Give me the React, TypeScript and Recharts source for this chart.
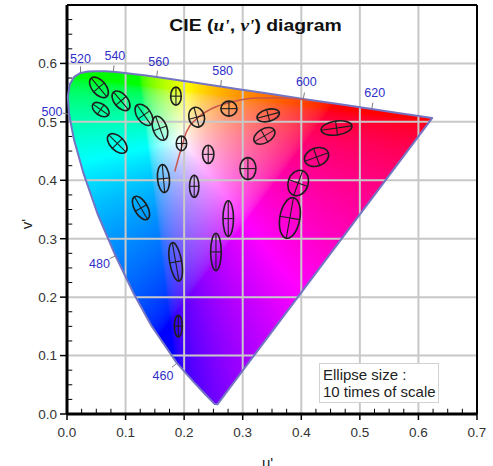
import { useMemo } from 'react'
import { ScatterChart, Scatter, XAxis, YAxis, CartesianGrid, ReferenceLine } from 'recharts'

const W = 493
const H = 466
const MARGIN = { top: 5, right: 16, left: 27, bottom: 0 }
const Y_AXIS_W = 40
const X_AXIS_H = 52
const SPAN = 0.7
// pixels per unit of u' (and v'), used to size the ellipses
const PX_PER_UNIT = (W - MARGIN.left - MARGIN.right - Y_AXIS_W) / SPAN

const FONT = '"Liberation Sans", Arial, sans-serif'
const SERIF = '"Liberation Serif", "Times New Roman", serif'

const X_TICKS = [0, 0.1, 0.2, 0.3, 0.4, 0.5, 0.6, 0.7]
const Y_TICKS = [0, 0.1, 0.2, 0.3, 0.4, 0.5, 0.6]
const MINOR_TICKS = [
  0.025, 0.05, 0.075, 0.125, 0.15, 0.175, 0.225, 0.25, 0.275, 0.325, 0.35,
  0.375, 0.425, 0.45, 0.475, 0.525, 0.55, 0.575, 0.625, 0.65, 0.675,
]
const GRID_STEPS = [0.1, 0.2, 0.3, 0.4, 0.5, 0.6]

// spectral locus, 380 -> 700 nm
const LOCUS_WL = [
  380, 420, 440, 450, 460, 470, 475, 480, 485, 490, 495, 500, 505, 510, 515, 520,
  525, 530, 535, 540, 545, 550, 555, 560, 565, 570, 575, 580, 585, 590, 595, 600,
  610, 620, 630, 640, 650, 680, 700,
]
const LOCUS_U = [
  0.2568, 0.2522, 0.2347, 0.2161, 0.1877, 0.1441, 0.1147, 0.0828, 0.0521, 0.0282,
  0.0119, 0.0035, 0.0014, 0.0046, 0.0123, 0.0231, 0.036, 0.0501, 0.0643, 0.0792,
  0.0953, 0.1127, 0.1319, 0.1531, 0.1766, 0.2026, 0.2312, 0.2623, 0.296, 0.3315,
  0.3681, 0.4035, 0.4692, 0.5203, 0.5565, 0.583, 0.6005, 0.6199, 0.6234,
]
const LOCUS_V = [
  0.0166, 0.0169, 0.035, 0.0549, 0.0871, 0.151, 0.2044, 0.2708, 0.3427, 0.4117,
  0.4698, 0.5131, 0.5432, 0.5638, 0.577, 0.5837, 0.5861, 0.5868, 0.5865, 0.5856,
  0.5841, 0.5821, 0.5796, 0.5766, 0.5732, 0.5694, 0.5651, 0.5604, 0.5554, 0.5501,
  0.5446, 0.5393, 0.5296, 0.5219, 0.5165, 0.5125, 0.5099, 0.507, 0.5065,
]

const WL_LABELS = [460, 480, 500, 520, 540, 560, 580, 600, 620]
// label placement relative to its locus point, px
const LABEL_OFFSET: Record<number, [number, number]> = {
  460: [-14, 12],
  480: [-16, 8],
  500: [-17, -3],
  520: [0, -14],
  540: [1.5, -16],
  560: [2, -16],
  580: [2, -16.5],
  600: [3, -17],
  620: [3, -17],
}

// Planckian locus
const PLANCK_U = [0.184, 0.194, 0.204, 0.221, 0.244, 0.27, 0.298, 0.329, 0.369, 0.41]
const PLANCK_V = [0.415, 0.451, 0.483, 0.505, 0.521, 0.531, 0.538, 0.541, 0.541, 0.537]

// MacAdam ellipses (10x): centre, semi-axes, major-axis angle (deg)
const ELL_U = [
  0.0546, 0.0575, 0.0922, 0.0858, 0.1314, 0.1587, 0.186, 0.2213, 0.1954, 0.2765,
  0.2411, 0.1647, 0.2172, 0.1263, 0.3089, 0.3435, 0.337, 0.4602, 0.4261, 0.3947,
  0.3805, 0.2753, 0.2543, 0.1855, 0.19,
]
const ELL_V = [
  0.559, 0.521, 0.536, 0.463, 0.512, 0.489, 0.544, 0.508, 0.463, 0.5226, 0.4444,
  0.4029, 0.3897, 0.3526, 0.42, 0.5111, 0.476, 0.4894, 0.4398, 0.3954, 0.3356,
  0.3345, 0.2774, 0.2603, 0.1504,
]
const ELL_A = [
  0.0205, 0.0162, 0.0196, 0.0205, 0.0205, 0.0213, 0.0154, 0.0171, 0.0125, 0.0137,
  0.0154, 0.0239, 0.0188, 0.0222, 0.0188, 0.0196, 0.0196, 0.0265, 0.0213, 0.0222,
  0.035, 0.0304, 0.0319, 0.0333, 0.0184,
]
const ELL_B = [
  0.0119, 0.0097, 0.0114, 0.0119, 0.0119, 0.0119, 0.009, 0.0133, 0.0089, 0.0128,
  0.0097, 0.0102, 0.008, 0.0111, 0.0137, 0.0102, 0.0119, 0.0119, 0.0154, 0.0171,
  0.0171, 0.009, 0.009, 0.0102, 0.0068,
]
const ELL_ANGLE = [
  -50, -35, -50, -45, -55, -70, 90, 105, 90, 0, 90, 95, 90, -60, 90, 15, 30, 8,
  20, 70, 80, 90, 90, 100, 90,
]

const LOCUS = LOCUS_WL.map((wl, i) => ({ wl, u: LOCUS_U[i], v: LOCUS_V[i] }))
const LABELS = LOCUS.filter((p) => WL_LABELS.includes(p.wl))
const PLANCK = PLANCK_U.map((u, i) => ({ u, v: PLANCK_V[i] }))
const ELLIPSES = ELL_U.map((u, i) => ({
  u,
  v: ELL_V[i],
  a: ELL_A[i],
  b: ELL_B[i],
  angle: ELL_ANGLE[i],
}))

function toByte(c: number) {
  const s = c <= 0.0031308 ? 12.92 * c : 1.055 * Math.pow(c, 1 / 2.4) - 0.055
  return Math.round(Math.max(0, Math.min(1, s)) * 255)
}

// chromaticity (u', v') -> display colour, brightest at full saturation
function uvToRgb(u: number, v: number): [number, number, number] {
  const d = 6 * u - 16 * v + 12
  const x = (9 * u) / d
  const y = (4 * v) / d
  if (y <= 0.0005) return [255, 255, 255]
  const X = x / y
  const Z = (1 - x - y) / y
  const r = Math.max(0, 3.2406 * X - 1.5372 - 0.4986 * Z)
  const g = Math.max(0, -0.9689 * X + 1.8758 + 0.0415 * Z)
  const b = Math.max(0, 0.0557 * X - 0.204 + 1.057 * Z)
  const m = Math.max(r, g, b) || 1
  return [toByte(r / m), toByte(g / m), toByte(b / m)]
}

function gamutImage(n: number) {
  const canvas = document.createElement('canvas')
  canvas.width = n
  canvas.height = n
  const ctx = canvas.getContext('2d')
  if (!ctx) return ''
  const img = ctx.createImageData(n, n)
  for (let j = 0; j < n; j++) {
    const v = SPAN - ((j + 0.5) / n) * SPAN
    for (let i = 0; i < n; i++) {
      const u = ((i + 0.5) / n) * SPAN
      const [r, g, b] = uvToRgb(u, v)
      const k = (j * n + i) * 4
      img.data[k] = r
      img.data[k + 1] = g
      img.data[k + 2] = b
      img.data[k + 3] = 255
    }
  }
  ctx.putImageData(img, 0, 0)
  return canvas.toDataURL()
}

type Pt = { x: number; y: number }

// Filled locus: the point positions come from the chart's scales; a linear fit
// of them places the colour image and the grid over the fill.
function renderGamut(points: Pt[] | undefined, image: string) {
  if (!points || points.length < 2) return <g />
  let iu0 = 0
  let iu1 = 0
  let iv0 = 0
  let iv1 = 0
  LOCUS.forEach((p, i) => {
    if (p.u < LOCUS[iu0].u) iu0 = i
    if (p.u > LOCUS[iu1].u) iu1 = i
    if (p.v < LOCUS[iv0].v) iv0 = i
    if (p.v > LOCUS[iv1].v) iv1 = i
  })
  const bx = (points[iu1].x - points[iu0].x) / (LOCUS[iu1].u - LOCUS[iu0].u)
  const ax = points[iu0].x - bx * LOCUS[iu0].u
  const by = (points[iv1].y - points[iv0].y) / (LOCUS[iv1].v - LOCUS[iv0].v)
  const ay = points[iv0].y - by * LOCUS[iv0].v
  const fx = (u: number) => ax + bx * u
  const fy = (v: number) => ay + by * v
  const d = points.map((p, i) => `${i ? 'L' : 'M'}${p.x},${p.y}`).join(' ') + ' Z'
  return (
    <g>
      <defs>
        <clipPath id="gamut-clip">
          <path d={d} />
        </clipPath>
      </defs>
      <image
        href={image}
        x={fx(0)}
        y={fy(SPAN)}
        width={fx(SPAN) - fx(0)}
        height={fy(0) - fy(SPAN)}
        preserveAspectRatio="none"
        clipPath="url(#gamut-clip)"
      />
      <g clipPath="url(#gamut-clip)" stroke="#c8c8c8" strokeWidth={2}>
        {GRID_STEPS.map((t) => (
          <line key={`gv${t}`} x1={fx(t)} x2={fx(t)} y1={fy(0)} y2={fy(SPAN)} />
        ))}
        {GRID_STEPS.map((t) => (
          <line key={`gh${t}`} x1={fx(0)} x2={fx(SPAN)} y1={fy(t)} y2={fy(t)} />
        ))}
      </g>
      <path d={d} fill="none" stroke="#7474c4" strokeWidth={2} strokeLinejoin="round" />
    </g>
  )
}

function EllipseMark(props: any) {
  const { cx, cy, payload } = props
  if (cx == null || cy == null) return <g />
  const rx = payload.a * PX_PER_UNIT
  const ry = payload.b * PX_PER_UNIT
  return (
    <g transform={`translate(${cx},${cy}) rotate(${-payload.angle})`} stroke="#1e1e1e" fill="none">
      <ellipse rx={rx} ry={ry} strokeWidth={1.6} />
      <line x1={-rx} x2={rx} y1={0} y2={0} strokeWidth={1.1} />
      <line x1={0} x2={0} y1={-ry} y2={ry} strokeWidth={1.1} />
    </g>
  )
}

function WavelengthLabel(props: any) {
  const { cx, cy, payload } = props
  if (cx == null || cy == null) return <g />
  const [dx, dy] = LABEL_OFFSET[payload.wl] ?? [0, -14]
  const len = Math.hypot(dx, dy) || 1
  const ux = dx / len
  const uy = dy / len
  return (
    <g>
      <line
        x1={cx + ux * 0.5}
        y1={cy + uy * 0.5}
        x2={cx + ux * 6.5}
        y2={cy + uy * 6.5}
        stroke="#7a7a7a"
        strokeWidth={1}
      />
      <text
        x={cx + dx}
        y={cy + dy + 4.5}
        textAnchor="middle"
        fontSize={12.5}
        fontFamily={FONT}
        fill="#2f2fc8"
      >
        {payload.wl}
      </text>
    </g>
  )
}

const noShape = () => <g />

export default function App() {
  const image = useMemo(() => gamutImage(420), [])
  const tick = { fill: '#333', fontSize: 13.5, fontFamily: FONT }

  return (
    <div style={{ position: 'absolute', left: 0, top: 0, width: W, height: H, background: '#fff' }}>
      <ScatterChart width={W} height={H} margin={MARGIN}>
        <CartesianGrid stroke="#c8c8c8" strokeWidth={2} />
        <XAxis
          type="number"
          dataKey="u"
          domain={[0, SPAN]}
          ticks={X_TICKS}
          tickFormatter={(t: number) => t.toFixed(1)}
          height={X_AXIS_H}
          tickSize={6}
          tickMargin={7}
          tick={tick}
          axisLine={{ stroke: '#000', strokeWidth: 3 }}
          tickLine={{ stroke: '#000', strokeWidth: 1.5 }}
        />
        <YAxis
          type="number"
          dataKey="v"
          domain={[0, SPAN]}
          ticks={Y_TICKS}
          tickFormatter={(t: number) => t.toFixed(1)}
          width={Y_AXIS_W}
          tickSize={7}
          tickMargin={3}
          tick={tick}
          axisLine={{ stroke: '#000', strokeWidth: 3 }}
          tickLine={{ stroke: '#000', strokeWidth: 1.5 }}
        />
        <Scatter
          data={LOCUS}
          shape={noShape}
          line={(p: any) => renderGamut(p.points, image)}
          isAnimationActive={false}
        />
        <Scatter
          data={PLANCK}
          shape={noShape}
          line={{ stroke: '#c8564a', strokeWidth: 1.5 }}
          lineJointType="monotoneX"
          isAnimationActive={false}
        />
        <Scatter data={ELLIPSES} shape={EllipseMark} isAnimationActive={false} />
        <Scatter data={LABELS} shape={WavelengthLabel} isAnimationActive={false} />
        {MINOR_TICKS.map((t) => (
          <ReferenceLine
            key={`mx${t}`}
            segment={[{ x: t, y: 0 }, { x: t, y: 0.009 }]}
            stroke="#000"
            strokeWidth={1}
          />
        ))}
        {MINOR_TICKS.map((t) => (
          <ReferenceLine
            key={`my${t}`}
            segment={[{ x: 0, y: t }, { x: 0.009, y: t }]}
            stroke="#000"
            strokeWidth={1}
          />
        ))}
        <ReferenceLine y={SPAN} stroke="#000" strokeWidth={2} />
        <ReferenceLine x={SPAN} stroke="#000" strokeWidth={2} />
      </ScatterChart>

      <div
        style={{
          position: 'absolute',
          left: 0,
          top: 16.6,
          width: 511,
          textAlign: 'center',
          fontFamily: FONT,
          fontWeight: 700,
          fontSize: 17,
          lineHeight: '17px',
          color: '#111',
          whiteSpace: 'nowrap',
          transform: 'scaleX(1.14)',
          transformOrigin: '255.5px 50%',
        }}
      >
        CIE (<i style={{ fontFamily: SERIF }}>u'</i>, <i style={{ fontFamily: SERIF }}>v'</i>) diagram
      </div>

      <div
        style={{
          position: 'absolute',
          left: 26,
          top: 224,
          transform: 'translate(-50%, -50%) rotate(-90deg)',
          fontFamily: FONT,
          fontSize: 15,
          lineHeight: '15px',
          color: '#222',
        }}
      >
        v'
      </div>
      <div
        style={{
          position: 'absolute',
          left: 262,
          top: 455,
          fontFamily: FONT,
          fontSize: 15,
          lineHeight: '15px',
          color: '#222',
        }}
      >
        u'
      </div>

      <div
        style={{
          position: 'absolute',
          left: 319,
          top: 363,
          width: 115,
          height: 35,
          border: '1px solid #d2d2d2',
          background: '#fff',
          padding: '3px 0 0 3px',
          boxSizing: 'content-box',
          fontFamily: FONT,
          fontSize: 15,
          lineHeight: '16.7px',
          color: '#222',
          whiteSpace: 'nowrap',
          overflow: 'hidden',
        }}
      >
        Ellipse size :
        <br />
        10 times of scale
      </div>
    </div>
  )
}
